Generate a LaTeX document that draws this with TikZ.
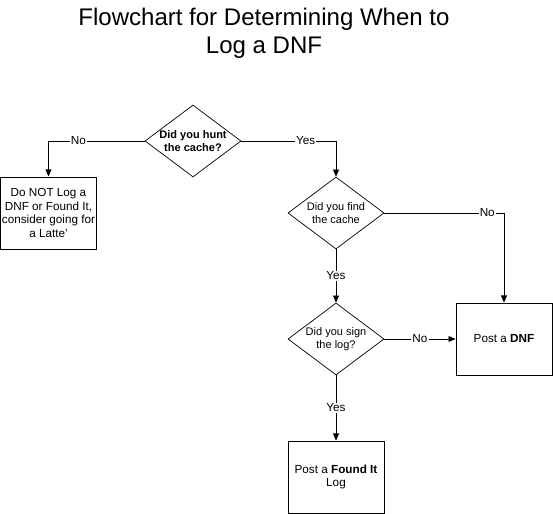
\documentclass[tikz,border=0pt]{standalone}
\usepackage{fontspec}
\setmainfont{Liberation Sans}
\usetikzlibrary{positioning, shapes.geometric, arrows.meta, calc}

\begin{document}
\begin{tikzpicture}[x=0.03cm, y=-0.03cm,
        font=\fontsize{10}{11.5}\selectfont,
        decision/.style={draw, diamond, line width=0.6pt, aspect=1.333,
              font=\fontsize{9.4}{11}\selectfont,
              inner sep=-6pt, minimum width=2.88cm, minimum height=2.16cm, align=center},
        result/.style={draw, rectangle, line width=0.8pt, minimum width=2.88cm,
              minimum height=2.16cm, align=center, inner sep=0pt},
        flow/.style={draw, line width=0.6pt, -{Triangle[length=6pt, width=5pt]}},
        answer/.style={fill=white, inner sep=1pt}]
        \useasboundingbox (0,0) rectangle (553,514);
        \node[font=\fontsize{20.5}{23.8}\selectfont, align=center] (title) at (264,33)
              {Flowchart for Determining When to\\Log a DNF};
        % questions
        \node[decision] (hunt) at (193,141) {\textbf{Did you hunt}\\\textbf{the cache?}};
        \node[decision] (find) at (336,213) {Did you find\\the cache};
        \node[decision] (sign) at (336,339) {Did you sign\\the log?};
        % outcomes
        \node[result] (latte) at (48.5,213)
              {Do NOT Log a\\DNF or Found It,\\consider going for\\a Latte'};
        \node[result] (dnf) at (504,339) {Post a \textbf{DNF}};
        \node[result] (found) at (336,477) {Post a \textbf{Found It}\\Log};
        % connectors
        \draw[flow] (hunt.west) -| node[answer, pos=0.345] {No} (latte.north);
        \draw[flow] (hunt.east) -| node[answer, pos=0.34] {Yes} (find.north);
        \draw[flow] (find.east) -| node[answer, pos=0.43] {No} (dnf.north);
        \draw[flow] (find.south) -- node[answer] {Yes} (sign.north);
        \draw[flow] (sign.east) -- node[answer] {No} (dnf.west);
        \draw[flow] (sign.south) -- node[answer] {Yes} (found.north);
      \end{tikzpicture}
\end{document}
